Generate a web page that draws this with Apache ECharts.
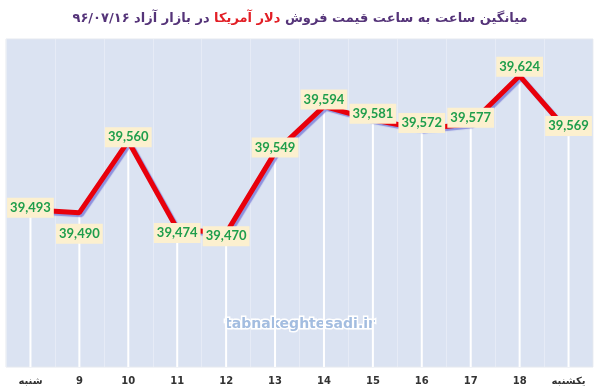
<!DOCTYPE html>
<html><head><meta charset="utf-8">
<script src="https://cdn.jsdelivr.net/npm/echarts@6/dist/echarts.min.js"></script>
<style>html,body{margin:0;padding:0;background:#fff}#c{width:600px;height:391px}</style>
</head><body><div id="c"></div>
<script>
const categories = ['شنبه','9','10','11','12','13','14','15','16','17','18','یکشنبه'];
const prices = [39493, 39490, 39560, 39474, 39470, 39549, 39594, 39581, 39572, 39577, 39624, 39569];
const labelOffsets = [[0,-2],[0,21],[0,-4],[0,4],[0,3],[0,-5],[0,-7],[0,-6],[0,-6],[0,-6],[0,-9],[0,-6]];

const chart = echarts.init(document.getElementById('c'));
const fmt = v => v.toLocaleString('en-US');
chart.setOption({
  animation: false,
  backgroundColor: '#fff',
  title: {
    left: 'center', top: 7,
    text: '{p|در بازار آزاد ۹۶/۰۷/۱۶} {r|دلار آمریکا} {p|میانگین ساعت به ساعت قیمت فروش}',
    textStyle: {
      fontFamily: 'DejaVu Sans', fontSize: 13, fontWeight: 'bold', color: '#553479',
      rich: {
        p: {fontFamily: 'DejaVu Sans', fontSize: 13, fontWeight: 'bold', color: '#553479'},
        r: {fontFamily: 'DejaVu Sans', fontSize: 13, fontWeight: 'bold', color: '#e21f26'}
      }
    }
  },
  grid: {left: 6, right: 7, top: 39, bottom: 24, show: true, backgroundColor: '#dbe3f2', borderColor: '#e4e8ef', borderWidth: 1},
  xAxis: {
    type: 'category', data: categories, boundaryGap: true,
    axisLine: {show: false}, axisTick: {show: false},
    splitLine: {show: true, lineStyle: {color: 'rgba(255,255,255,0.3)', width: 1}},
    axisLabel: {margin: 9, fontFamily: 'DejaVu Sans', fontSize: 10, fontWeight: 'bold', color: '#333'}
  },
  yAxis: {
    type: 'value', min: 39339, max: 39660, show: false, splitLine: {show: false}
  },
  graphic: [{
    type: 'text', left: 'center', top: 316, z: 1,
    style: {text: 'tabnakeghtesadi.ir', font: 'bold 14px "DejaVu Sans"', fill: '#a3bde0', stroke: '#ffffff', lineWidth: 3}
  }],
  series: [
    {
      type: 'bar', data: prices, barWidth: 2, z: 2,
      itemStyle: {color: '#ffffff'}, silent: true
    },
    {
      type: 'line', data: prices.map((v, i) => ({value: v, label: {offset: labelOffsets[i]}})), z: 5,
      symbol: 'circle', symbolSize: 1, showSymbol: true,
      itemStyle: {color: '#e8000b'},
      lineStyle: {color: '#e8000b', width: 5, shadowColor: 'rgba(100,100,210,0.65)', shadowOffsetX: 2, shadowOffsetY: 2, shadowBlur: 1},
      label: {
        show: true, position: 'inside', formatter: p => fmt(p.value),
        fontFamily: 'Lato', fontWeight: 'bold', fontSize: 13, color: '#1f9e4c',
        backgroundColor: '#fcf0cf', padding: [4, 3, 3, 3]
      }
    }
  ]
});
</script></body></html>
